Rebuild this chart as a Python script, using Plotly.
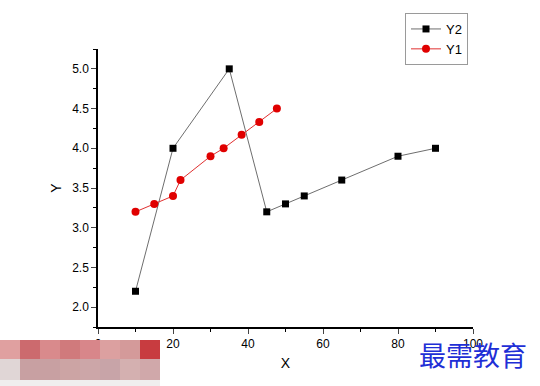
import plotly.graph_objects as go

# Data
y2_x = [10, 20, 35, 45, 50, 55, 65, 80, 90]
y2_y = [2.2, 4.0, 5.0, 3.2, 3.3, 3.4, 3.6, 3.9, 4.0]
y1_x = [10, 15, 20, 22, 30, 33.5, 38.3, 43, 47.7]
y1_y = [3.2, 3.3, 3.4, 3.6, 3.9, 4.0, 4.17, 4.33, 4.5]
x_ticks = [0, 20, 40, 60, 80, 100]
y_ticks = [2.0, 2.5, 3.0, 3.5, 4.0, 4.5, 5.0]

W, H = 540, 386
L, R, T, B = 98, 67, 49, 59
PW, PH = W - L - R, H - T - B

fig = go.Figure()
fig.add_trace(go.Scatter(x=y2_x, y=y2_y, name="Y2", mode="lines+markers",
                         line=dict(color="#6e6e6e", width=1),
                         marker=dict(symbol="square", size=7, color="black")))
fig.add_trace(go.Scatter(x=y1_x, y=y1_y, name="Y1", mode="lines+markers",
                         line=dict(color="#e03030", width=1),
                         marker=dict(symbol="circle", size=8, color="#e00000")))

def px(x):
    return (x - L) / PW

def py(y):
    return (H - B - y) / PH

shapes = []
row1 = ["#e0a0a0", "#cc6a6e", "#d98a8c", "#d07a7c", "#d8868a", "#dca0a0", "#d49a9a", "#c83c40"]
row2 = ["#e0d6d6", "#c8a0a2", "#c8a0a2", "#cca4a4", "#cca6a8", "#c8a4a8", "#d4b0b0", "#d0a8aa"]
for i, c in enumerate(row1):
    shapes.append(dict(type="rect", xref="paper", yref="paper", layer="above",
                       x0=px(i * 20), x1=px(i * 20 + 20), y0=py(340), y1=py(359),
                       fillcolor=c, line=dict(width=0)))
for i, c in enumerate(row2):
    shapes.append(dict(type="rect", xref="paper", yref="paper", layer="above",
                       x0=px(i * 20), x1=px(i * 20 + 20), y0=py(359), y1=py(380),
                       fillcolor=c, line=dict(width=0)))
shapes.append(dict(type="rect", xref="paper", yref="paper", layer="above",
                   x0=px(0), x1=px(160), y0=py(380), y1=py(386),
                   fillcolor="#f0eeee", line=dict(width=0)))

fig.update_layout(
    width=W, height=H,
    margin=dict(l=L, r=R, t=T, b=B, pad=0),
    paper_bgcolor="white", plot_bgcolor="white",
    font=dict(family="Liberation Sans, Arial, sans-serif", size=12, color="black"),
    showlegend=True,
    legend=dict(x=px(405), y=py(13), xanchor="left", yanchor="top",
                bordercolor="#9a9a9a", borderwidth=1, bgcolor="white",
                font=dict(size=13), tracegroupgap=0, itemwidth=30),
    xaxis=dict(range=[0, 100], tickvals=x_ticks, ticktext=[str(v) for v in x_ticks],
               showgrid=False, zeroline=False, showline=True, linecolor="black",
               linewidth=1.5, ticks="outside", ticklen=5, tickwidth=1,
               minor=dict(dtick=10, ticks="outside", ticklen=3, tickwidth=1, tickcolor="black"),
               title=dict(text="X", font=dict(size=14), standoff=8)),
    yaxis=dict(range=[1.75, 5.25], tickvals=y_ticks, ticktext=[f"{v:.1f}" for v in y_ticks],
               showgrid=False, zeroline=False, showline=True, linecolor="black",
               linewidth=1.5, ticks="outside", ticklen=5, tickwidth=1,
               minor=dict(dtick=0.25, tick0=1.75, ticks="outside", ticklen=3, tickwidth=1, tickcolor="black"),
               title=dict(text="Y", font=dict(size=14), standoff=7)),
    shapes=shapes,
    annotations=[dict(text="最需教育", xref="paper", yref="paper", x=px(473), y=py(354),
                      xanchor="center", yanchor="middle", showarrow=False,
                      font=dict(family="Noto Sans CJK SC", size=27, color="#1f2fd6"))],
)

fig.write_html("out.html", config={"displayModeBar": False},
               post_script="document.body.style.margin='0';")
